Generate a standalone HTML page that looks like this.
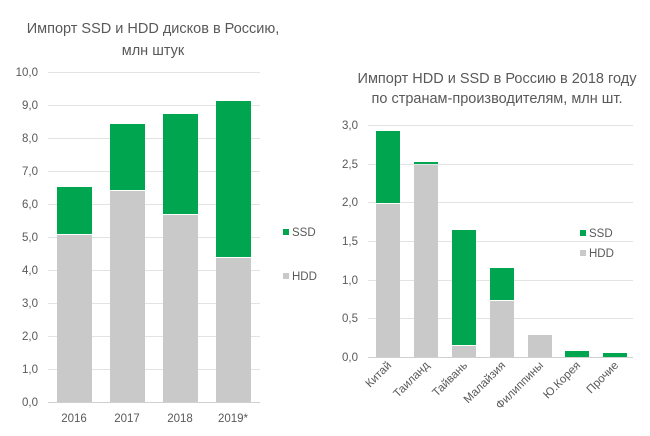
<!DOCTYPE html>
<html><head><meta charset="utf-8"><style>
body{margin:0;background:#fff;}
svg{display:block;font-family:"Liberation Sans","DejaVu Sans",sans-serif;}
</style></head><body>
<svg width="650" height="436" viewBox="0 0 650 436">
<rect width="650" height="436" fill="#fff"/>
<g fill="#595959" font-size="14.5" text-anchor="middle">
<text x="153" y="33">Импорт SSD и HDD дисков в Россию,</text>
<text x="153" y="55">млн штук</text>
<text x="497" y="83">Импорт HDD и SSD в Россию в 2018 году</text>
<text x="497" y="103">по странам-производителям, млн шт.</text>
</g>
<!-- left chart -->
<g stroke="#e3e3e3" stroke-width="1">
<line x1="48" x2="260" y1="72.5" y2="72.5"/><line x1="48" x2="260" y1="105.5" y2="105.5"/>
<line x1="48" x2="260" y1="138.5" y2="138.5"/><line x1="48" x2="260" y1="171.5" y2="171.5"/>
<line x1="48" x2="260" y1="204.5" y2="204.5"/><line x1="48" x2="260" y1="237.5" y2="237.5"/>
<line x1="48" x2="260" y1="270.5" y2="270.5"/><line x1="48" x2="260" y1="303.5" y2="303.5"/>
<line x1="48" x2="260" y1="336.5" y2="336.5"/><line x1="48" x2="260" y1="369.5" y2="369.5"/>
<line x1="48" x2="260" y1="402.5" y2="402.5" stroke="#d0d0d0"/>
</g>
<g fill="#595959" font-size="11.5" text-anchor="end">
<text x="38" y="76">10,0</text><text x="38" y="109">9,0</text><text x="38" y="142">8,0</text>
<text x="38" y="175">7,0</text><text x="38" y="208">6,0</text><text x="38" y="241">5,0</text>
<text x="38" y="274">4,0</text><text x="38" y="307">3,0</text><text x="38" y="340">2,0</text>
<text x="38" y="373">1,0</text><text x="38" y="406">0,0</text>
</g>
<g>
<rect x="57" y="235" width="35" height="167" fill="#c9c9c9"/><rect x="57" y="187" width="35" height="47" fill="#00a550"/>
<rect x="110" y="191" width="35" height="211" fill="#c9c9c9"/><rect x="110" y="124" width="35" height="66" fill="#00a550"/>
<rect x="163" y="215" width="35" height="187" fill="#c9c9c9"/><rect x="163" y="114" width="35" height="100" fill="#00a550"/>
<rect x="216" y="258" width="35" height="144" fill="#c9c9c9"/><rect x="216" y="101" width="35" height="156" fill="#00a550"/>
</g>
<g fill="#595959" font-size="11.5" text-anchor="middle">
<text x="74" y="422">2016</text><text x="127" y="422">2017</text><text x="180" y="422">2018</text><text x="233" y="422">2019*</text>
</g>
<rect x="283" y="229" width="6" height="6" fill="#00a550"/>
<text x="292" y="236" fill="#595959" font-size="11.5">SSD</text>
<rect x="283" y="273" width="6" height="6" fill="#c9c9c9"/>
<text x="292" y="280" fill="#595959" font-size="11.5">HDD</text>
<!-- right chart -->
<g stroke="#e3e3e3">
<line x1="368" x2="633" y1="125.5" y2="125.5"/><line x1="368" x2="633" y1="164.5" y2="164.5"/>
<line x1="368" x2="633" y1="202.5" y2="202.5"/><line x1="368" x2="633" y1="241.5" y2="241.5"/>
<line x1="368" x2="633" y1="280.5" y2="280.5"/><line x1="368" x2="633" y1="318.5" y2="318.5"/>
<line x1="368" x2="633" y1="357.5" y2="357.5" stroke="#d0d0d0"/>
</g>
<g fill="#595959" font-size="11.5" text-anchor="end">
<text x="358" y="129">3,0</text><text x="358" y="168">2,5</text><text x="358" y="206">2,0</text>
<text x="358" y="245">1,5</text><text x="358" y="284">1,0</text><text x="358" y="322">0,5</text>
<text x="358" y="361">0,0</text>
</g>
<g>
<rect x="376" y="204" width="24" height="153" fill="#c9c9c9"/><rect x="376" y="131" width="24" height="72" fill="#00a550"/>
<rect x="414" y="165" width="24" height="192" fill="#c9c9c9"/><rect x="414" y="162" width="24" height="2" fill="#00a550"/>
<rect x="452" y="346" width="24" height="11" fill="#c9c9c9"/><rect x="452" y="230" width="24" height="115" fill="#00a550"/>
<rect x="490" y="301" width="24" height="56" fill="#c9c9c9"/><rect x="490" y="268" width="24" height="32" fill="#00a550"/>
<rect x="528" y="335" width="24" height="22" fill="#c9c9c9"/>
<rect x="565" y="351" width="24" height="6" fill="#00a550"/>
<rect x="603" y="353" width="24" height="4" fill="#00a550"/>
</g>
<g fill="#595959" font-size="11.5" text-anchor="end">
<text transform="translate(392,366) rotate(-45)">Китай</text>
<text transform="translate(430,366) rotate(-45)">Таиланд</text>
<text transform="translate(468,366) rotate(-45)">Тайвань</text>
<text transform="translate(506,366) rotate(-45)">Малайзия</text>
<text transform="translate(544,366) rotate(-45)">Филиппины</text>
<text transform="translate(581,366) rotate(-45)">Ю.Корея</text>
<text transform="translate(619,366) rotate(-45)">Прочие</text>
</g>
<rect x="580" y="230" width="6" height="6" fill="#00a550"/>
<text x="589" y="237" fill="#595959" font-size="11.5">SSD</text>
<rect x="580" y="250" width="6" height="6" fill="#c9c9c9"/>
<text x="589" y="257" fill="#595959" font-size="11.5">HDD</text>
</svg>
</body></html>
